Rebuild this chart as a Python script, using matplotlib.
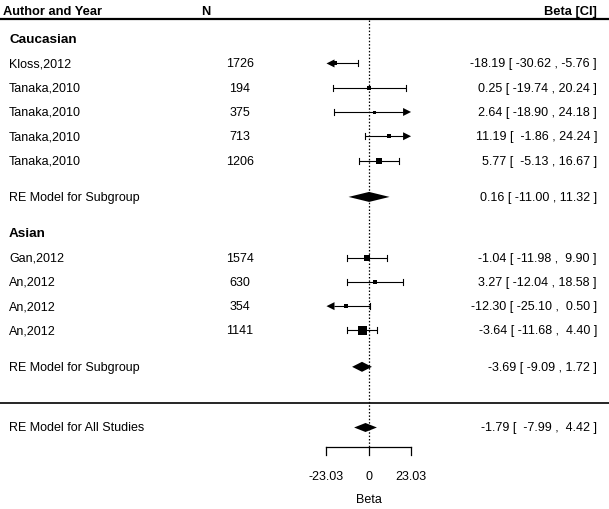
import numpy as np
import matplotlib
matplotlib.use('Agg')
import matplotlib.pyplot as plt
from matplotlib.patches import Polygon

# study data
caucasianNames = ['Kloss,2012', 'Tanaka,2010', 'Tanaka,2010', 'Tanaka,2010', 'Tanaka,2010']
caucasianN = [1726, 194, 375, 713, 1206]
caucasianEst = [-18.19, 0.25, 2.64, 11.19, 5.77]
caucasianLo = [-30.62, -19.74, -18.90, -1.86, -5.13]
caucasianHi = [-5.76, 20.24, 24.18, 24.24, 16.67]

asianNames = ['Gan,2012', 'An,2012', 'An,2012', 'An,2012']
asianN = [1574, 630, 354, 1141]
asianEst = [-1.04, 3.27, -12.30, -3.64]
asianLo = [-11.98, -12.04, -25.10, -11.68]
asianHi = [9.90, 18.58, 0.50, 4.40]

# random effects summaries [est, lo, hi]
reCaucasian = [0.16, -11.00, 11.32]
reAsian = [-3.69, -9.09, 1.72]
reAll = [-1.79, -7.99, 4.42]

axisTicks = [-23.03, 0, 23.03]
axisTickLabels = ['-23.03', '0', '23.03']

# layout (rows counted bottom up like metafor)
caucasianRows = [15, 14, 13, 12, 11]
asianRows = [7, 6, 5, 4]
rowCaucasianHead = 16
rowCaucasianRE = 9.5
rowAsianHead = 8
rowAsianRE = 2.5
rowSep = 1
rowAll = 0
rowHeader = 17.16
rowHeaderLine = 16.83
rowAxis = -0.80

xlo, xhi = -200.8, 130.8
ylo, yhi = -3.358, 17.655
pxPerX = 609 / (xhi - xlo)
pxPerY = 510 / (yhi - ylo)

fontSize = 9
plt.rcParams['font.family'] = ['Liberation Sans', 'DejaVu Sans']

fig = plt.figure(figsize=(6.09, 5.10), dpi=100)
ax = fig.add_axes([0, 0, 1, 1])
ax.set_xlim(xlo, xhi)
ax.set_ylim(ylo, yhi)
ax.axis('off')
tr = ax.get_yaxis_transform()

xName = 9 / 609
xN = 240 / 609
xNHead = 206 / 609
xCI = 597 / 609

lim = axisTicks[-1]


def fmtCI(est, lo, hi, pad=True):
    if pad:
        return '{:.2f} [ {:6.2f} , {:5.2f} ]'.format(est, lo, hi)
    return '{:.2f} [ {:.2f} , {:.2f} ]'.format(est, lo, hi)


def arrow(x, y, direction):
    # filled triangle pointing left (-1) or right (+1), tip at x
    L = 8 / pxPerX
    h = 4 / pxPerY
    ax.add_patch(Polygon([(x, y), (x - direction * L, y + h), (x - direction * L, y - h)],
                         closed=True, color='black', lw=0))


def drawStudy(y, est, lo, hi, psize):
    cap = 3 / pxPerY
    L = 8 / pxPerX
    left = max(lo, -lim)
    right = min(hi, lim)
    x0 = left + L if lo < -lim else left
    x1 = right - L if hi > lim else right
    ax.plot([x0, x1], [y, y], color='black', lw=0.8, solid_capstyle='butt')
    if lo < -lim:
        arrow(-lim, y, -1)
    else:
        ax.plot([lo, lo], [y - cap, y + cap], color='black', lw=0.8)
    if hi > lim:
        arrow(lim, y, 1)
    else:
        ax.plot([hi, hi], [y - cap, y + cap], color='black', lw=0.8)
    ax.plot([est], [y], marker='s', color='black', markersize=4.32 * psize, mec='black', mew=0)


def drawDiamond(y, est, lo, hi, hpx=5):
    h = hpx / pxPerY
    ax.add_patch(Polygon([(lo, y), (est, y + h), (hi, y), (est, y - h)], closed=True,
                         color='black', lw=0))


# point sizes from inverse variance weights, scaled to 0.5 .. 1.5
allLo = np.array(caucasianLo + asianLo)
allHi = np.array(caucasianHi + asianHi)
se = (allHi - allLo) / (2 * 1.96)
wi = 1 / se**2
psizes = (wi - wi.min()) / (wi.max() - wi.min()) + 0.5

# header
ax.text(3 / 609, rowHeader, 'Author and Year', transform=tr, ha='left', va='center',
        fontsize=9.3, fontweight='bold')
ax.text(xNHead, rowHeader, 'N', transform=tr, ha='center', va='center', fontsize=9.3, fontweight='bold')
ax.text(xCI, rowHeader, 'Beta [CI]', transform=tr, ha='right', va='center', fontsize=9.3,
        fontweight='bold')
ax.axhline(rowHeaderLine, color='black', lw=1.6)
ax.axhline(rowSep, color='black', lw=1.2)

# reference line at zero
ax.plot([0, 0], [rowHeaderLine - 0.05, rowAxis], color='black', lw=0.9, linestyle=(0, (1.2, 1.5)))

groups = [
    ('Caucasian', rowCaucasianHead, caucasianNames, caucasianN, caucasianEst, caucasianLo, caucasianHi,
     caucasianRows, reCaucasian, rowCaucasianRE, True, 0),
    ('Asian', rowAsianHead, asianNames, asianN, asianEst, asianLo, asianHi,
     asianRows, reAsian, rowAsianRE, False, len(caucasianNames)),
]

for head, headRow, names, ns, ests, los, his, rows, re, reRow, rePad, off in groups:
    ax.text(xName, headRow, head, transform=tr, ha='left', va='center', fontsize=9.7, fontweight='bold')
    for i, y in enumerate(rows):
        ax.text(xName, y, names[i], transform=tr, ha='left', va='center', fontsize=fontSize)
        ax.text(xN, y, str(ns[i]), transform=tr, ha='center', va='center', fontsize=fontSize)
        ax.text(xCI, y, fmtCI(ests[i], los[i], his[i]), transform=tr, ha='right', va='center',
                fontsize=fontSize)
        drawStudy(y, ests[i], los[i], his[i], psizes[off + i])
    ax.text(xName, reRow, 'RE Model for Subgroup', transform=tr, ha='left', va='center', fontsize=fontSize)
    ax.text(xCI, reRow, fmtCI(*re, pad=rePad), transform=tr, ha='right', va='center', fontsize=fontSize)
    drawDiamond(reRow, *re)

# overall model
ax.text(xName, rowAll, 'RE Model for All Studies', transform=tr, ha='left', va='center', fontsize=fontSize)
ax.text(xCI, rowAll, fmtCI(*reAll), transform=tr, ha='right', va='center', fontsize=fontSize)
drawDiamond(rowAll, *reAll, hpx=4.5)

# x axis drawn by hand like base R
tickLen = 8 / pxPerY
ax.plot([axisTicks[0], axisTicks[-1]], [rowAxis, rowAxis], color='black', lw=0.9)
for t, lab in zip(axisTicks, axisTickLabels):
    ax.plot([t, t], [rowAxis, rowAxis - tickLen], color='black', lw=0.9)
    ax.text(t, rowAxis - 29 / pxPerY, lab, ha='center', va='center', fontsize=fontSize)
ax.text(0, rowAxis - 52 / pxPerY, 'Beta', ha='center', va='center', fontsize=fontSize)

fig.savefig('out.png', dpi=100)
